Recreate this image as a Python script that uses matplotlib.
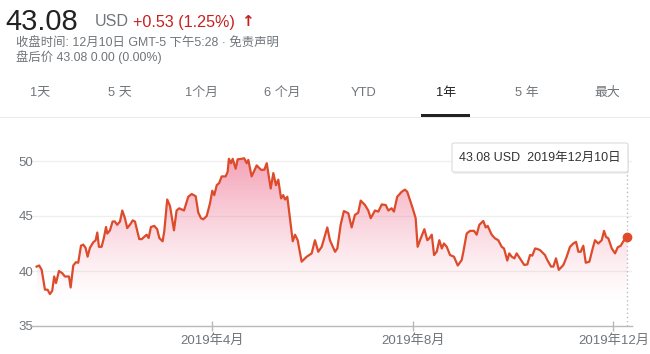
import numpy as np
import pandas as pd
import matplotlib
matplotlib.use("Agg")
import matplotlib.pyplot as plt
import matplotlib.dates as mdates
from matplotlib.patches import FancyBboxPatch, Rectangle

plt.rcParams['font.family'] = ['Liberation Sans', 'Noto Sans CJK SC', 'DejaVu Sans']

# ---- data (day offset from 2019-01-01, closing price) ----
day_offsets = [-16.6, -15.0, -13.5, -11.5, -9.9, -8.5, -7.1, -5.9, -4.8, -3.0, -1.0, 0.6, 3.1, 4.1, 5.7, 7.3, 8.7,
               10.4, 11.8, 13.2, 14.4, 15.8, 17.8, 19.3, 20.3, 21.3, 22.9, 24.3, 25.6, 26.4, 28.0, 29.6, 31.0,
               32.4, 34.1, 35.5, 37.1, 38.5, 40.6, 41.8, 43.2, 45.8, 47.3, 48.8, 50.3, 51.5, 52.9, 54.9, 56.7,
               58.0, 60.0, 61.0, 62.8, 64.5, 65.9, 66.9, 68.5, 70.1, 73.0, 75.6, 77.7, 80.1, 81.7, 83.3, 84.7,
               86.8, 88.8, 90.2, 91.4, 92.9, 94.4, 95.9, 98.3, 99.5, 100.3, 101.6, 102.6, 104.4, 105.6, 108.1,
               109.6, 111.1, 112.1, 114.1, 117.2, 119.8, 121.8, 123.3, 125.7, 127.3, 128.9, 130.3, 132.0, 133.3,
               134.4, 135.8, 139.1, 140.5, 142.1, 144.5, 147.6, 150.6, 152.6, 154.6, 156.7, 160.1, 161.7, 164.8,
               166.2, 168.2, 170.2, 172.9, 174.9, 176.9, 178.9, 180.4, 183.0, 185.0, 186.5, 189.1, 191.1, 193.2,
               195.6, 197.2, 199.2, 200.6, 202.6, 205.3, 207.3, 208.7, 212.0, 213.8, 215.0, 216.9, 219.1, 220.9,
               222.1, 223.6, 225.0, 226.6, 228.2, 229.7, 231.0, 232.7, 234.7, 237.1, 239.4, 241.8, 242.8, 244.8,
               246.8, 249.3, 250.9, 252.5, 254.9, 256.4, 257.6, 260.0, 262.0, 264.0, 266.1, 267.5, 269.5, 270.7,
               272.2, 273.8, 275.2, 277.2, 279.8, 281.7, 283.3, 284.7, 286.4, 287.8, 289.4, 292.4, 293.8, 296.1,
               297.5, 299.1, 300.8, 303.6, 305.6, 307.6, 309.6, 311.3, 312.7, 314.1, 315.7, 317.2, 319.4, 321.4,
               322.8, 324.8, 326.9, 328.3, 329.5, 330.9, 333.0, 335.0, 336.6, 338.5, 340.0, 342.5]
prices = [40.4, 40.5, 40.1, 38.3, 38.3, 37.9, 38.2, 39.5, 38.9, 40.0, 39.8, 39.5, 39.5, 38.5, 40.5, 40.8, 40.75,
          42.3, 42.4, 42.1, 41.3, 42.1, 42.6, 42.8, 43.5, 42.2, 42.2, 43.0, 44.0, 43.4, 43.7, 44.5, 44.5,
          44.2, 44.5, 45.5, 44.8, 43.9, 44.3, 44.6, 44.5, 42.9, 42.9, 43.1, 43.3, 43.0, 44.0, 44.1, 43.8,
          43.0, 42.7, 43.6, 46.5, 45.9, 44.6, 43.7, 45.5, 45.7, 45.5, 46.75, 47.0, 46.8, 45.3, 44.8, 44.7,
          45.0, 46.15, 47.3, 46.9, 47.8, 48.0, 48.6, 48.6, 49.0, 50.2, 49.8, 50.2, 49.3, 50.15, 50.2,
          50.25, 49.8, 50.1, 48.6, 49.6, 49.2, 49.2, 49.8, 47.5, 48.9, 47.8, 48.3, 46.6, 46.9,
          46.5, 46.75, 42.7, 43.3, 42.8, 40.85, 41.3, 41.6, 42.8, 41.75, 42.2, 43.96, 42.8, 41.75,
          42.05, 44.2, 45.45, 45.25, 43.96, 45.1, 45.3, 46.4, 46.0, 45.5, 44.8, 45.5, 45.4, 46.05,
          46.0, 45.5, 45.7, 45.4, 46.75, 47.2, 47.4, 47.2, 45.7, 44.8, 42.2, 42.97, 43.8, 42.8,
          42.97, 43.3, 41.45, 41.75, 42.8, 42.05, 42.5, 42.2, 41.45, 41.3, 40.5, 41.0, 41.75, 43.4,
          43.65, 43.65, 43.3, 44.2, 44.55, 43.96, 44.1, 43.3, 42.97, 42.8, 42.2, 42.05, 40.95, 41.6,
          41.3, 41.15, 41.6, 41.15, 40.55, 40.6, 41.45, 41.4, 42.05, 42.0, 41.9, 41.45, 41.0, 40.4,
          40.4, 41.15, 40.1, 40.55, 41.3, 42.2, 42.5, 42.65, 41.75, 41.75, 42.3, 40.75, 40.85, 42.05,
          42.8, 42.5, 42.8, 43.65, 43.1, 42.97, 42.05, 41.6, 42.15, 42.3, 42.7, 43.08]
y_ticks = [35, 40, 45, 50]
x_tick_dates = ['2019-04-01', '2019-08-01', '2019-12-01']
x_tick_labels = ['2019年4月', '2019年8月', '2019年12月']
tabs = ['1天', '5 天', '1个月', '6 个月', 'YTD', '1年', '5 年', '最大']
price_text = '43.08'
change_text = '+0.53 (1.25%)'
tooltip_text = '43.08 USD  2019年12月10日'

W, H = 650, 354
fig = plt.figure(figsize=(W / 100, H / 100), dpi=100)
fig.patch.set_facecolor('white')

def fx(px):
    return px / W

def fy(py):
    return 1 - py / H

grey = '#70757a'
red = '#c5221f'
line_c = '#dd4b2a'

# ---- header ----
fig.text(fx(5), fy(22), price_text, fontsize=21, color='#222222', va='center', ha='left')
fig.text(fx(95), fy(22), 'USD', fontsize=11.6, color=grey, va='center', ha='left')
fig.text(fx(133), fy(22), change_text, fontsize=11.6, color=red, va='center', ha='left')
fig.text(fx(241), fy(21), '↑', fontsize=11, color=red, va='center', ha='left', fontweight='bold',
         family=['DejaVu Sans'])
fig.text(fx(16), fy(43), '收盘时间: 12月10日 GMT-5 下午5:28 · 免责声明', fontsize=8.9, color=grey,
         va='center', ha='left')
fig.text(fx(16), fy(57), '盘后价 43.08 0.00 (0.00%)', fontsize=8.9, color=grey, va='center', ha='left')

# ---- tabs ----
tab_x = [40, 120, 201, 282, 364, 446, 527, 607]
for t, x in zip(tabs, tab_x):
    fig.text(fx(x), fy(93), t, fontsize=9.3, color='#222222' if t == '1年' else grey,
             va='center', ha='center')
fig.add_artist(Rectangle((fx(0), fy(118)), 1, 1 / H, transform=fig.transFigure, color='#ebebeb', lw=0))
fig.add_artist(Rectangle((fx(421), fy(117)), fx(49), 3 / H, transform=fig.transFigure, color='#222222', lw=0))

# ---- chart ----
base = pd.Timestamp('2019-01-01')
dates = base + pd.to_timedelta(day_offsets, unit='D')
xnum = mdates.date2num(dates)

ax = fig.add_axes([fx(30), fy(326), fx(602), (326 - 150) / H])
ax.set_facecolor('none')
ax.set_ylim(35, 51)
ax.set_xlim(mdates.date2num(base + pd.Timedelta(days=-20.6)), mdates.date2num(base + pd.Timedelta(days=345.3)))

# gradient fill under the line
poly = ax.fill_between(xnum, prices, 35, color='none', lw=0)
grad = np.linspace(0, 1, 256).reshape(-1, 1)
alpha = np.clip((grad - (37 - 35) / (51 - 35)) / ((50.3 - 37) / (51 - 35)), 0, 1) ** 1.3 * 0.62
rgba = np.zeros((256, 1, 4))
rgba[..., 0] = 0.93
rgba[..., 1] = 0.42
rgba[..., 2] = 0.55
rgba[..., 3] = alpha
im = ax.imshow(rgba, origin='lower', aspect='auto',
               extent=[xnum.min(), xnum.max(), 35, 51], zorder=1, interpolation='bilinear')
im.set_clip_path(poly.get_paths()[0], transform=ax.transData)

ax.plot(xnum, prices, color=line_c, lw=1.6, zorder=3, solid_joinstyle='round')
ax.scatter([xnum[-1]], [prices[-1]], s=36, color=line_c, zorder=4)

for yv in y_ticks[1:]:
    ax.axhline(yv, color='#efefef', lw=0.9, zorder=0)
ax.axhline(35, color='#b8b8b8', lw=1.0, zorder=2, clip_on=False)

for s in ax.spines.values():
    s.set_visible(False)

ax.set_yticks(y_ticks)
ax.set_yticklabels([str(v) for v in y_ticks])
ax.tick_params(axis='y', length=0, labelsize=9.5, labelcolor=grey, pad=-2)
for lbl in ax.get_yticklabels():
    lbl.set_horizontalalignment('left')
    lbl.set_x(-0.024)

tick_pos = [mdates.date2num(pd.Timestamp(d)) for d in x_tick_dates]
ax.set_xticks(tick_pos)
ax.set_xticklabels(x_tick_labels)
ax.tick_params(axis='x', length=7, direction='inout', color='#b8b8b8', width=1,
               labelsize=9.5, labelcolor=grey, pad=2.5)

# dotted vertical cursor line
ax.plot([xnum[-1], xnum[-1]], [35, 50.0], color='#bdbdbd', lw=1, ls=(0, (1, 2)), zorder=2, clip_on=False)

# tooltip box
tb = FancyBboxPatch((fx(452), fy(172)), fx(176), 29 / H, boxstyle='round,pad=0,rounding_size=0.004',
                    transform=fig.transFigure, facecolor='white', edgecolor='#dcdcdc', lw=0.8, zorder=10)
shadow = FancyBboxPatch((fx(453), fy(174)), fx(176), 29 / H, boxstyle='round,pad=0,rounding_size=0.004',
                        transform=fig.transFigure, facecolor='#000000', alpha=0.06, lw=0, zorder=9)
fig.add_artist(shadow)
fig.add_artist(tb)
fig.text(fx(540), fy(157.5), tooltip_text, fontsize=9, color='#333333', ha='center', va='center', zorder=11)

fig.savefig('out.png', dpi=100)
